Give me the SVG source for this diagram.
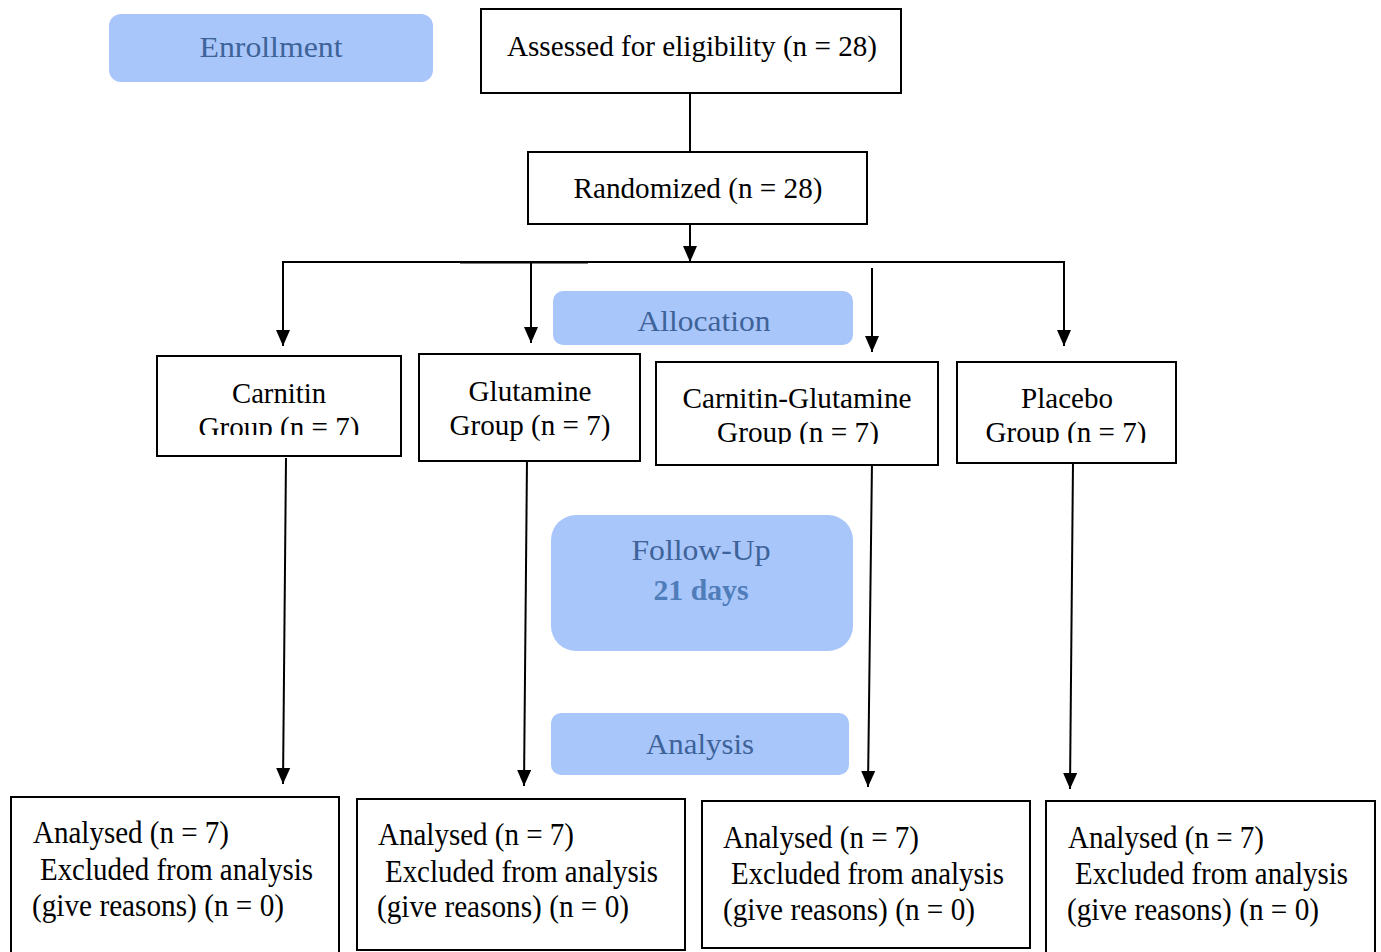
<svg xmlns="http://www.w3.org/2000/svg" width="1381" height="952" viewBox="0 0 1381 952">
<style>
.box{fill:#fff;stroke:#000;stroke-width:2}
.phase{fill:#a9c6fb}
.pt{font-family:"Liberation Serif","Times New Roman",serif;font-size:30px;fill:#3d6399;text-anchor:middle}
.t{font-family:"Liberation Serif","Times New Roman",serif;font-size:29px;fill:#000}
.b{font-size:31px}
.c{text-anchor:middle}
.ln{stroke:#000;stroke-width:2;fill:none}
.ar{stroke:#000;stroke-width:2;fill:none;marker-end:url(#ah)}
</style>
<defs>
<marker id="ah" markerWidth="16" markerHeight="14" refX="16" refY="7" orient="auto" markerUnits="userSpaceOnUse" viewBox="0 0 16 14">
<path d="M0,0 L16,7 L0,14 Z" fill="#000"/>
</marker>
<clipPath id="c1"><rect x="157" y="356" width="244" height="79"/></clipPath>
<clipPath id="c3"><rect x="656" y="362" width="282" height="82"/></clipPath>
<clipPath id="c4"><rect x="957" y="362" width="219" height="81"/></clipPath>
</defs>
<rect width="1381" height="952" fill="#fff"/>

<g id="phase-enrollment">
<rect class="phase" x="109" y="14" width="324" height="68" rx="12"/>
<text class="pt" x="271" y="57" textLength="143" lengthAdjust="spacingAndGlyphs">Enrollment</text>
</g>
<g id="phase-allocation">
<rect class="phase" x="553" y="291" width="300" height="54" rx="10"/>
<text class="pt" x="704" y="331" textLength="133" lengthAdjust="spacingAndGlyphs">Allocation</text>
</g>
<g id="phase-followup">
<rect class="phase" x="551" y="515" width="302" height="136" rx="25"/>
<text class="pt" x="701" y="560" textLength="139" lengthAdjust="spacingAndGlyphs">Follow-Up</text>
<text class="pt" x="701" y="600" font-weight="bold" style="fill:#4f7db9" textLength="95" lengthAdjust="spacingAndGlyphs">21 days</text>
</g>
<g id="phase-analysis">
<rect class="phase" x="551" y="713" width="298" height="62" rx="10"/>
<text class="pt" x="700" y="754" textLength="108" lengthAdjust="spacingAndGlyphs">Analysis</text>
</g>

<g id="connectors">
<line class="ln" x1="690" y1="93" x2="690" y2="152"/>
<line class="ar" x1="690" y1="224" x2="690" y2="262"/>
<line class="ln" x1="282" y1="262" x2="1065" y2="262"/>
<line class="ln" x1="460" y1="262.5" x2="588" y2="262.5" stroke-width="3"/>
<line class="ar" x1="283" y1="262" x2="283" y2="346"/>
<line class="ar" x1="531" y1="262" x2="531" y2="343"/>
<line class="ar" x1="872" y1="268" x2="872" y2="352"/>
<line class="ar" x1="1064" y1="262" x2="1064" y2="346"/>
<line class="ar" x1="286" y1="458" x2="283" y2="784"/>
<line class="ar" x1="527" y1="459" x2="524" y2="786"/>
<line class="ar" x1="872" y1="461" x2="868" y2="787"/>
<line class="ar" x1="1073" y1="462" x2="1070" y2="789"/>
</g>

<g id="assessed">
<rect class="box" x="481" y="9" width="420" height="84"/>
<text class="t c" x="692" y="56" textLength="370" lengthAdjust="spacingAndGlyphs">Assessed for eligibility (n = 28)</text>
</g>
<g id="randomized">
<rect class="box" x="528" y="152" width="339" height="72"/>
<text class="t c" x="698" y="198" textLength="249" lengthAdjust="spacingAndGlyphs">Randomized (n = 28)</text>
</g>

<g id="carnitin-group">
<rect class="box" x="157" y="356" width="244" height="100"/>
<text class="t c" x="279" y="403" textLength="94" lengthAdjust="spacingAndGlyphs">Carnitin</text>
<text class="t c" x="279" y="437" clip-path="url(#c1)" textLength="161" lengthAdjust="spacingAndGlyphs">Group (n = 7)</text>
</g>
<g id="glutamine-group">
<rect class="box" x="419" y="354" width="221" height="107"/>
<text class="t c" x="530" y="401" textLength="123" lengthAdjust="spacingAndGlyphs">Glutamine</text>
<text class="t c" x="530" y="435" textLength="161" lengthAdjust="spacingAndGlyphs">Group (n = 7)</text>
</g>
<g id="carnitin-glutamine-group">
<rect class="box" x="656" y="362" width="282" height="103"/>
<text class="t c" x="797" y="408" textLength="229" lengthAdjust="spacingAndGlyphs">Carnitin-Glutamine</text>
<text class="t c" x="798" y="442" clip-path="url(#c3)" textLength="162" lengthAdjust="spacingAndGlyphs">Group (n = 7)</text>
</g>
<g id="placebo-group">
<rect class="box" x="957" y="362" width="219" height="101"/>
<text class="t c" x="1067" y="408" textLength="92" lengthAdjust="spacingAndGlyphs">Placebo</text>
<text class="t c" x="1066" y="442" clip-path="url(#c4)" textLength="161" lengthAdjust="spacingAndGlyphs">Group (n = 7)</text>
</g>

<g id="analysed-1">
<rect class="box" x="11" y="797" width="328" height="160"/>
<text class="t b" x="33" y="843" textLength="196" lengthAdjust="spacingAndGlyphs">Analysed (n = 7)</text>
<text class="t b" x="40" y="880" textLength="273" lengthAdjust="spacingAndGlyphs">Excluded from analysis</text>
<text class="t b" x="32" y="916" textLength="252" lengthAdjust="spacingAndGlyphs">(give reasons) (n = 0)</text>
</g>
<g id="analysed-2">
<rect class="box" x="357" y="799" width="328" height="151"/>
<text class="t b" x="378" y="845" textLength="196" lengthAdjust="spacingAndGlyphs">Analysed (n = 7)</text>
<text class="t b" x="385" y="882" textLength="273" lengthAdjust="spacingAndGlyphs">Excluded from analysis</text>
<text class="t b" x="377" y="917" textLength="252" lengthAdjust="spacingAndGlyphs">(give reasons) (n = 0)</text>
</g>
<g id="analysed-3">
<rect class="box" x="702" y="801" width="328" height="147"/>
<text class="t b" x="723" y="848" textLength="196" lengthAdjust="spacingAndGlyphs">Analysed (n = 7)</text>
<text class="t b" x="731" y="884" textLength="273" lengthAdjust="spacingAndGlyphs">Excluded from analysis</text>
<text class="t b" x="723" y="920" textLength="252" lengthAdjust="spacingAndGlyphs">(give reasons) (n = 0)</text>
</g>
<g id="analysed-4">
<rect class="box" x="1046" y="801" width="329" height="160"/>
<text class="t b" x="1068" y="848" textLength="196" lengthAdjust="spacingAndGlyphs">Analysed (n = 7)</text>
<text class="t b" x="1075" y="884" textLength="273" lengthAdjust="spacingAndGlyphs">Excluded from analysis</text>
<text class="t b" x="1067" y="920" textLength="252" lengthAdjust="spacingAndGlyphs">(give reasons) (n = 0)</text>
</g>
</svg>
